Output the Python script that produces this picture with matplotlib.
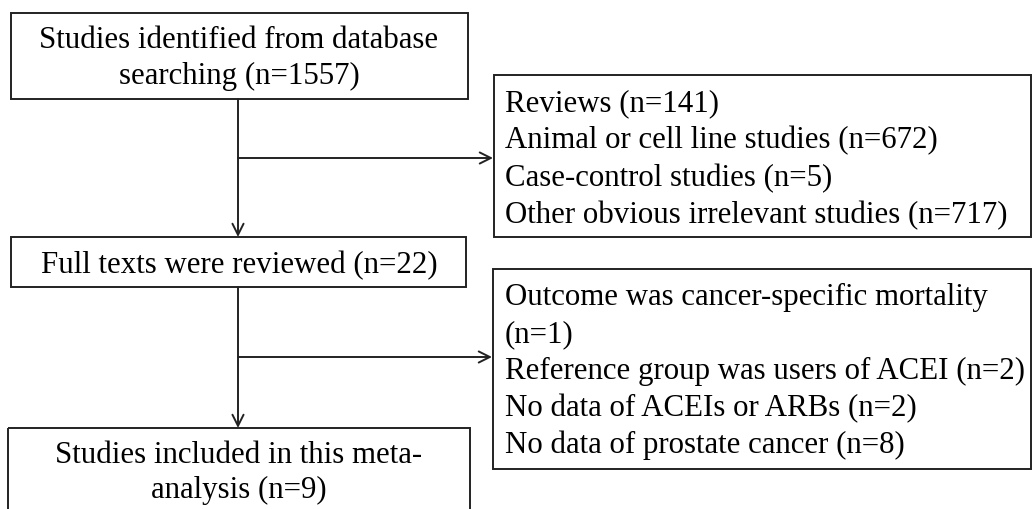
import matplotlib
matplotlib.use("Agg")
import matplotlib.pyplot as plt
from matplotlib.patches import Rectangle

# ---- content ----
main_box1_lines = ["Studies identified from database", "searching (n=1557)"]
main_box2_lines = ["Full texts were reviewed (n=22)"]
main_box3_lines = ["Studies included in this meta-", "analysis (n=9)"]
excl1_lines = ["Reviews (n=141)",
               "Animal or cell line studies (n=672)",
               "Case-control studies (n=5)",
               "Other obvious irrelevant studies (n=717)"]
excl2_lines = ["Outcome was cancer-specific mortality",
               "(n=1)",
               "Reference group was users of ACEI (n=2)",
               "No data of ACEIs or ARBs (n=2)",
               "No data of prostate cancer (n=8)"]

W, H = 1033, 509
fig = plt.figure(figsize=(W / 100, H / 100), dpi=100)
ax = fig.add_axes([0, 0, 1, 1])
ax.set_xlim(0, W)
ax.set_ylim(H, 0)
ax.axis("off")

FONT = dict(family="Liberation Serif", size=22.2, color="black")
LW = 1.4
EC = "#222222"

def box(x0, y0, x1, y1):
    ax.add_patch(Rectangle((x0, y0), x1 - x0, y1 - y0, fill=False,
                           edgecolor=EC, lw=LW, clip_on=False))

def lines_center(cx, baselines, texts):
    for b, t in zip(baselines, texts):
        ax.text(cx, b, t, ha="center", va="baseline", **FONT)

def lines_left(x, baselines, texts):
    for b, t in zip(baselines, texts):
        ax.text(x, b, t, ha="left", va="baseline", **FONT)

def arrow(x0, y0, x1, y1):
    ax.annotate("", xy=(x1, y1), xytext=(x0, y0),
                arrowprops=dict(arrowstyle="->", lw=LW, color=EC,
                                mutation_scale=20, shrinkA=0, shrinkB=0))

# main boxes
box(11, 13, 468, 99)
lines_center(239, [48, 84], main_box1_lines)
box(11, 237, 466, 287)
lines_center(239, [273], main_box2_lines)
box(8, 428, 470, 530)
lines_center(239, [463, 498], main_box3_lines)

# exclusion boxes
box(494, 75, 1031, 237)
lines_left(505, [111, 148, 186, 223], excl1_lines)
box(493, 269, 1031, 469)
lines_left(505, [305, 342, 379, 416, 453], excl2_lines)

# arrows
arrow(238, 99, 238, 237)
arrow(238, 158, 493, 158)
arrow(238, 287, 238, 428)
arrow(238, 357, 492, 357)

fig.savefig("out.png", dpi=100, facecolor="white")
